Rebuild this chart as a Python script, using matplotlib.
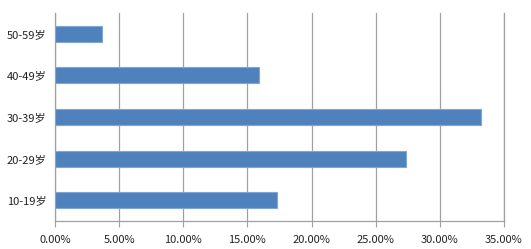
import matplotlib.pyplot as plt
from matplotlib.ticker import PercentFormatter

plt.rcParams['font.family'] = ['Noto Sans CJK SC', 'DejaVu Sans']

ages = ['10-19岁', '20-29岁', '30-39岁', '40-49岁', '50-59岁']
shares = [17.33, 27.36, 33.2, 15.9, 3.66]

fig = plt.figure(figsize=(5.31, 2.49), dpi=100)
ax = fig.add_axes([0.1036, 0.1124, 0.8456, 0.8354])

ax.barh(ages, shares, height=0.38, color='#4f81bd', edgecolor='#7fa6d6', linewidth=0.8, zorder=3)

ax.set_xlim(0, 35)
ax.set_ylim(-0.5, 4.5)
ax.set_xticks(range(0, 36, 5))
ax.xaxis.set_major_formatter(PercentFormatter(decimals=2))
ax.grid(axis='x', color='#a0a0a0', linewidth=0.9, zorder=0)

ax.spines['top'].set_visible(False)
for s in ['left', 'bottom', 'right']:
    ax.spines[s].set_color('#a0a0a0')
    ax.spines[s].set_linewidth(0.9)

ax.tick_params(axis='x', length=4, color='#a0a0a0', labelsize=8, pad=6, labelcolor='#222222')
ax.tick_params(axis='y', length=0, labelsize=8, pad=6, labelcolor='#222222')

fig.savefig('out.png', dpi=100)
